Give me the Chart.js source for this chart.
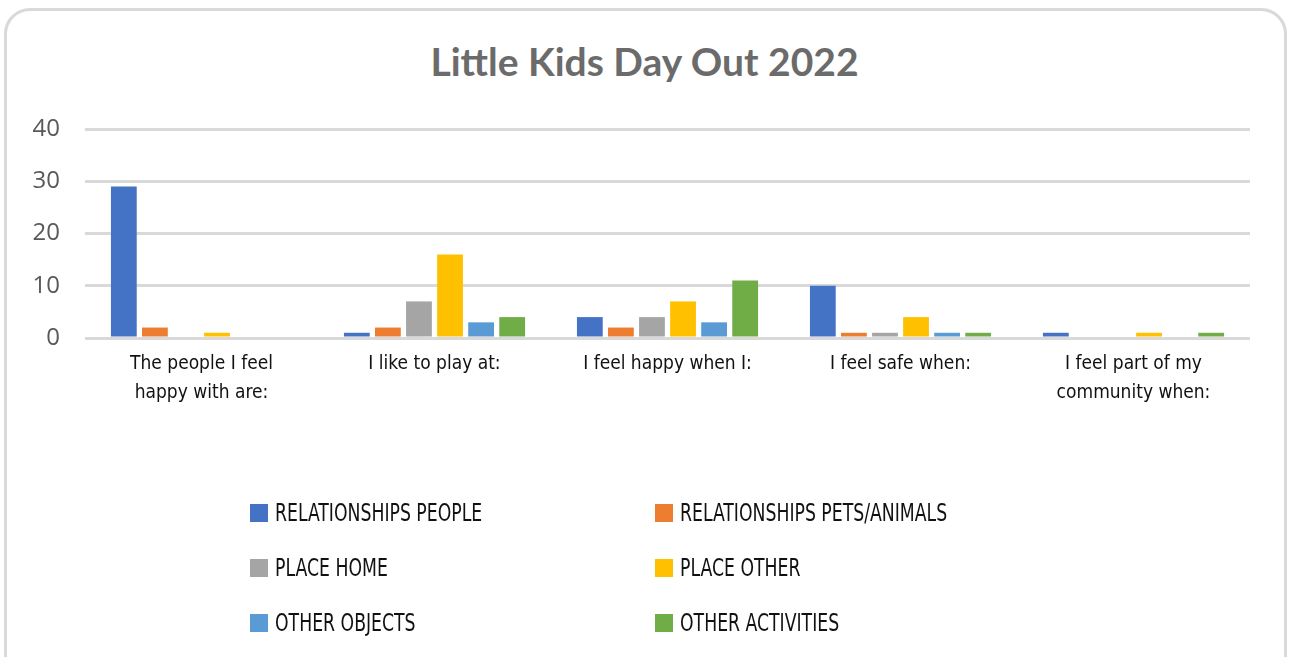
<!DOCTYPE html>
<html>
<head>
<meta charset="utf-8">
<script src="https://cdn.jsdelivr.net/npm/chart.js@4/dist/chart.umd.min.js"></script>
<style>
  html, body { margin: 0; padding: 0; background: #fff; }
  body { width: 1289px; height: 657px; position: relative; overflow: hidden; }
  .frame { position: absolute; left: 4px; top: 8px; width: 1283px; height: 700px;
           border: 3px solid #d9d9d9; border-radius: 26px; box-sizing: border-box; }
  .title { position: absolute; left: 0; width: 1289px; top: 38px; text-align: center;
           font-family: Lato, sans-serif; font-weight: bold; font-size: 39px; color: #6b6b6b; }
  .chart-box { position: absolute; left: 0; top: 0; width: 1289px; height: 657px; }
  .legend { position: absolute; left: 250px; top: 498px; width: 800px;
            font-family: "Liberation Sans Narrow", "DejaVu Sans Condensed", sans-serif; }
  .legend-item { position: absolute; height: 30px; display: flex; align-items: center; white-space: nowrap; }
  .legend-item .sw { width: 18px; height: 18px; margin-right: 7px; }
  .legend-item .tx { font-size: 24px; color: #111; display: inline-block; transform: scaleX(0.8); transform-origin: left center; }
</style>
</head>
<body>
<div class="frame"></div>
<div class="title">Little Kids Day Out 2022</div>
<div class="chart-box"><canvas id="chartKids" width="1289" height="657"></canvas></div>
<div class="legend" id="legend"></div>
<script>
// categories (x axis)
const categorias = [
  ['The people I feel', 'happy with are:'],
  'I like to play at:',
  'I feel happy when I:',
  'I feel safe when:',
  ['I feel part of my', 'community when:']
];

// series
const relPessoas   = [29, 1, 4, 10, 1];
const relAnimais   = [2, 2, 2, 1, 0];
const lugarCasa    = [0, 7, 4, 1, 0];
const lugarOutro   = [1, 16, 7, 4, 1];
const outrosObjs   = [0, 3, 3, 1, 0];
const outrasAtivs  = [0, 4, 11, 1, 1];

const yTicks = [0, 10, 20, 30, 40];

const series = [
  { label: 'RELATIONSHIPS PEOPLE', data: relPessoas, color: '#4472c4' },
  { label: 'RELATIONSHIPS PETS/ANIMALS', data: relAnimais, color: '#ed7d31' },
  { label: 'PLACE HOME', data: lugarCasa, color: '#a5a5a5' },
  { label: 'PLACE OTHER', data: lugarOutro, color: '#ffc000' },
  { label: 'OTHER OBJECTS', data: outrosObjs, color: '#5b9bd5' },
  { label: 'OTHER ACTIVITIES', data: outrasAtivs, color: '#70ad47' }
];

const chart = new Chart(document.getElementById('chartKids'), {
  type: 'bar',
  data: {
    labels: categorias,
    datasets: series.map(s => ({
      label: s.label,
      data: s.data,
      backgroundColor: s.color,
      borderWidth: 0,
      categoryPercentage: 0.80,
      barPercentage: 0.83
    }))
  },
  options: {
    responsive: false,
    animation: false,
    layout: { padding: { left: 0, right: 39, top: 129, bottom: 0 } },
    plugins: {
      legend: { display: false },
      tooltip: { enabled: false }
    },
    scales: {
      x: {
        grid: { display: false, drawTicks: false },
        border: { display: false },
        ticks: {
          color: '#111',
          autoSkip: false,
          maxRotation: 0,
          padding: 12,
          font: { family: '"Liberation Sans Narrow", "DejaVu Sans Condensed", sans-serif', size: 19, lineHeight: 1.5 }
        },
        afterFit: scale => { scale.height = 657 - 338; }
      },
      y: {
        min: 0,
        max: 40,
        afterBuildTicks: scale => { scale.ticks = yTicks.map(v => ({ value: v })); },
        grid: { color: '#d9d9d9', lineWidth: 3, drawTicks: false },
        border: { display: false },
        ticks: {
          color: '#595959',
          padding: 25,
          font: { family: '"Open Sans", sans-serif', size: 24 }
        },
        afterFit: scale => { scale.width = 85; }
      }
    }
  }
});

// legend em 2 colunas, a partir dos datasets
const legendEl = document.getElementById('legend');
legendEl.innerHTML = chart.data.datasets.map((ds, i) => {
  const col = i % 2, row = Math.floor(i / 2);
  return `<div class="legend-item" style="left:${col * 405}px; top:${row * 55}px">
    <span class="sw" style="background:${ds.backgroundColor}"></span><span class="tx">${ds.label}</span>
  </div>`;
}).join('');
</script>
</body>
</html>
